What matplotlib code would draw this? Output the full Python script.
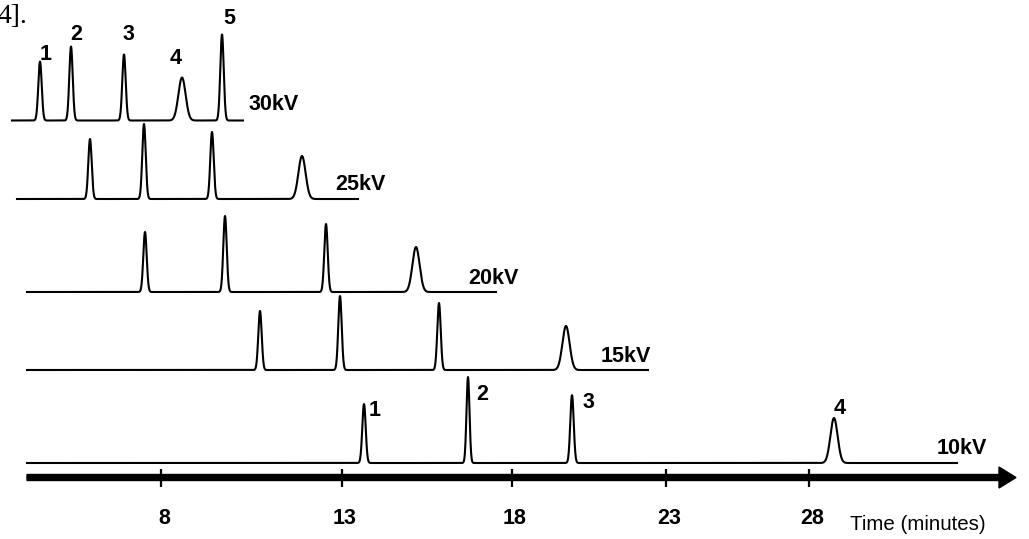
import numpy as np
import matplotlib.pyplot as plt

plt.rcParams['font.family'] = ['Liberation Sans', 'DejaVu Sans']

# Schematic electropherograms, drawn in picture units (x to the right, y downwards)
voltages = ['30kV', '25kV', '20kV', '15kV', '10kV']
baselines = [120.5, 199, 292, 370, 463]
trace_start = [12, 17, 27, 27, 27]
trace_end = [243, 358, 496, 648, 957]

peak_pos = [
    [40, 71, 124, 182, 222],
    [90, 144, 212, 302],
    [145, 225, 326, 416],
    [260, 340, 439, 566],
    [364, 468, 572, 834],
]
peak_height = [
    [59, 74, 66, 43, 86],
    [60, 75, 67, 43],
    [60, 76, 68, 45],
    [59, 74, 67, 44],
    [59, 86, 68, 45],
]
peak_sigma = [
    [1.7, 1.7, 1.7, 3.6, 1.7],
    [1.7, 1.7, 1.7, 3.6],
    [1.7, 1.7, 1.7, 3.6],
    [1.7, 1.7, 1.7, 3.6],
    [1.7, 1.5, 1.7, 3.6],
]

# peak number labels on the top and bottom traces
top_labels = ['1', '2', '3', '4', '5']
top_label_xy = [(46, 54), (76, 35), (128, 35), (176, 58), (229, 18)]
bottom_labels = ['1', '2', '3', '4']
bottom_label_xy = [(375, 410), (482, 395), (588, 402), (840, 408)]
kv_label_xy = [(274, 104), (360, 185), (493, 278), (626, 356), (962, 449)]

# time axis
tick_pos = [161, 342, 512, 666, 809]
tick_labels = ['8', '13', '18', '23', '28']
axis_y = 477.5

fig = plt.figure(figsize=(10.29, 5.39), dpi=100)
ax = fig.add_axes([0, 0, 1, 1])
ax.set_xlim(0, 1029)
ax.set_ylim(539, 0)
ax.axis('off')

for i, kv in enumerate(voltages):
    x = np.linspace(trace_start[i], trace_end[i], 3000)
    y = np.zeros_like(x)
    for p, h, s in zip(peak_pos[i], peak_height[i], peak_sigma[i]):
        y += h * np.exp(-0.5 * ((x - p) / s) ** 2)
    ax.plot(x, baselines[i] - y, color='black', lw=1.5)
    ax.text(kv_label_xy[i][0], kv_label_xy[i][1], kv, fontsize=15.5,
            fontweight='bold', ha='center', va='center')

for lab, (lx, ly) in zip(top_labels, top_label_xy):
    ax.text(lx, ly, lab, fontsize=15.5, fontweight='bold', ha='center', va='center')
for lab, (lx, ly) in zip(bottom_labels, bottom_label_xy):
    ax.text(lx, ly, lab, fontsize=15.5, fontweight='bold', ha='center', va='center')

# thick arrow for the time axis
ax.arrow(27, axis_y, 989, 0, width=6, head_width=21, head_length=17,
         length_includes_head=True, color='black')
ax.vlines(tick_pos, axis_y - 9, axis_y + 9, color='black', lw=1.6)
for tp, tl in zip(tick_pos, tick_labels):
    ax.text(tp + 3, 518, tl, fontsize=15.5, fontweight='bold', ha='center', va='center')
ax.text(918, 524, 'Time (minutes)', fontsize=14.8, ha='center', va='center')

# fragment of the page text above the figure
ax.text(-3, 4, '4].', fontsize=20, family='Liberation Serif', ha='left', va='top')

fig.savefig('out.png', dpi=100)
